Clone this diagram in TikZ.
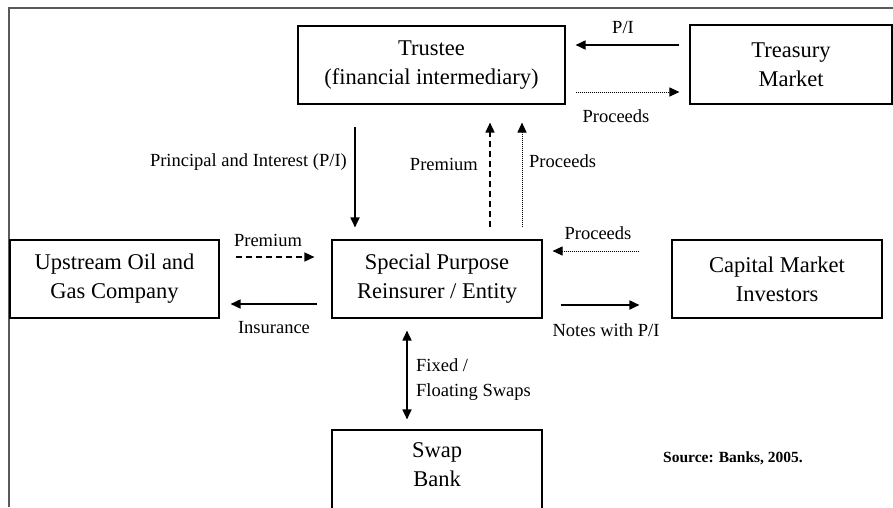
\documentclass[tikz,border=0pt]{standalone}
\usepackage{fontspec}
\setmainfont{Liberation Serif}
\usetikzlibrary{arrows.meta}
\begin{document}
\begin{tikzpicture}[x=1pt,y=-1pt,
  box/.style={draw, line width=1.1pt, minimum height=78pt, align=center, inner sep=0pt,
    font=\fontsize{22.5}{29}\selectfont},
  lbl/.style={font=\fontsize{18.5}{25}\selectfont, inner sep=0pt},
  tip/.style={-{Triangle[length=10pt,width=9pt]}},
  solidarr/.style={tip, line width=1.7pt},
  dasharr/.style={tip, line width=1.5pt, dash pattern=on 6pt off 4pt},
  dotarr/.style={tip, line width=1pt, dash pattern=on 1pt off 1pt},
]
\clip (0,0) rectangle (893,507);
\fill[white] (0,0) rectangle (893,507);
% frame
\draw[line width=1.6pt, black!65] (9,507) -- (9,8) -- (893,8);

% boxes
\node[box, minimum width=267pt] (trustee) at (431.5,65) {Trustee\\(financial intermediary)};
\node[box, minimum width=202pt, minimum height=79pt] (treasury) at (791,64.5) {Treasury\\Market};
\node[box, minimum width=210pt] (spr) at (437,279) {Special Purpose\\Reinsurer / Entity};
\node[box, minimum width=209pt] (upstream) at (114.5,279) {Upstream Oil and\\Gas Company};
\node[box, minimum width=210pt] (capital) at (777,279) {Capital Market\\Investors};
\node[box, minimum width=210pt, minimum height=100pt] (swap) at (437,480) {};
\node[font=\fontsize{22.5}{29}\selectfont, align=center, inner sep=0pt] (swaptext) at (437,465) {Swap\\Bank};

% arrows top
\draw[solidarr] ([xshift=-10pt,yshift=19.5pt]treasury.west) -- ([xshift=10pt,yshift=20pt]trustee.east);
\draw[dotarr] ([xshift=10pt,yshift=-27pt]trustee.east) -- ([xshift=-10pt,yshift=-27.5pt]treasury.west);
\node[lbl] (lpi) at (623,27) {P/I};
\node[lbl] (lproc1) at (616,116) {Proceeds};

% vertical between trustee and spr
\draw[solidarr] ([xshift=-76.5pt,yshift=-22pt]trustee.south) -- ([xshift=-82pt,yshift=12pt]spr.north);
\draw[dasharr] ([xshift=53pt,yshift=12pt]spr.north) -- ([xshift=58.5pt,yshift=-18pt]trustee.south);
\draw[dotarr] ([xshift=85pt,yshift=12pt]spr.north) -- ([xshift=90.5pt,yshift=-18pt]trustee.south);
\node[lbl, anchor=east] (lpiv) at (347,162) {Principal and Interest (P/I)};
\node[lbl, anchor=east] (lprem1) at (478,164) {Premium};
\node[lbl, anchor=west] (lproc2) at (529,161) {Proceeds};

% horizontal left
\draw[dasharr] ([xshift=16pt,yshift=22pt]upstream.east) -- ([xshift=-17pt,yshift=22pt]spr.west);
\draw[solidarr] ([xshift=-14pt,yshift=-25pt]spr.west) -- ([xshift=11pt,yshift=-25pt]upstream.east);
\node[lbl] (lprem2) at (268,240) {Premium};
\node[lbl] (lins) at (274,328) {Insurance};

% horizontal right
\draw[dotarr] ([xshift=-32pt,yshift=28pt]capital.west) -- ([xshift=10pt,yshift=28pt]spr.east);
\draw[solidarr] ([xshift=18pt,yshift=-26pt]spr.east) -- ([xshift=-32pt,yshift=-26pt]capital.west);
\node[lbl] (lproc3) at (598,233) {Proceeds};
\node[lbl] (lnotes) at (606,330) {Notes with P/I};

% swap
\draw[{Triangle[length=10pt,width=9pt]}-{Triangle[length=10pt,width=9pt]}, line width=1.7pt]
  ([xshift=-30pt,yshift=-12pt]spr.south) -- ([xshift=-30pt,yshift=10pt]swap.north);
\node[lbl, anchor=west, align=left] (lswap) at (416,379.5) {Fixed /\\Floating Swaps};

\node[font=\fontsize{15.5}{18}\selectfont\bfseries, inner sep=0pt] (src) at (733,458) {Source: Banks, 2005.};
\end{tikzpicture}
\end{document}
